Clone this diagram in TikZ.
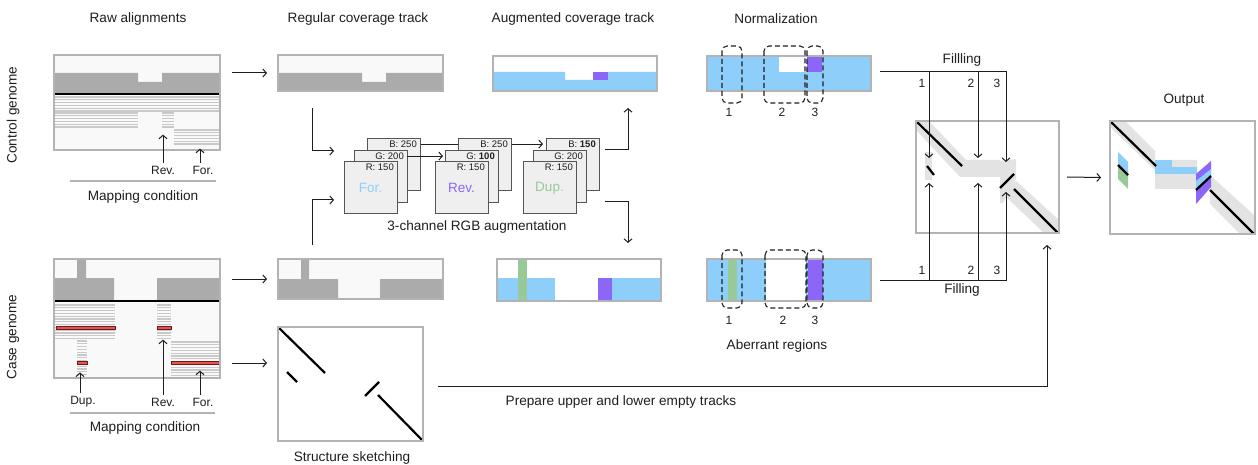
\documentclass[tikz,border=0pt]{standalone}
\usepackage{fontspec}
\setmainfont{Liberation Sans}
\usetikzlibrary{arrows.meta,calc}
\pgfdeclarelayer{back}
\pgfsetlayers{back,main}

\definecolor{frame}{HTML}{B3B3B3}
\definecolor{panel}{HTML}{F9F9F9}
\definecolor{cov}{HTML}{ABABAB}
\definecolor{readc}{HTML}{C9C9C9}
\definecolor{skyb}{HTML}{8DCEFB}
\definecolor{viol}{HTML}{8C66F7}
\definecolor{leaf}{HTML}{98C998}
\definecolor{band}{HTML}{E3E3E3}
\definecolor{cardf}{HTML}{EFEFEF}
\definecolor{cardline}{HTML}{555555}
\definecolor{ink}{HTML}{1E1E1E}
\definecolor{redr}{HTML}{E8554E}
\definecolor{redline}{HTML}{6A1C1C}

\tikzset{
  txt/.style={font=\fontsize{13.6}{16}\selectfont, inner sep=0pt, text=ink},
  small/.style={font=\fontsize{12}{14}\selectfont, inner sep=0pt, text=ink},
  clabel/.style={font=\fontsize{9.5}{11}\selectfont, inner sep=0pt, text=ink},
  cardtxt/.style={font=\fontsize{13.5}{16}\selectfont, inner sep=0pt},
  panelbox/.style={draw=frame, line width=1.3pt, inner sep=0pt, outer sep=0pt, anchor=north west},
  card/.style={draw=cardline, fill=cardf, line width=0.9pt, minimum width=53pt,
               minimum height=52pt, inner sep=0pt, outer sep=0pt, anchor=north west},
  arr/.style={-{Straight Barb[length=3.5pt,width=8pt]}, line width=1pt, draw=ink},
  plain/.style={line width=1pt, draw=ink},
  diag/.style={line width=2.2pt, draw=black},
  dashbox/.style={draw=ink, line width=1.1pt, dash pattern=on 5pt off 3pt, rounded corners=5pt},
  underline/.style={draw=frame, line width=2pt},
  readln/.style={draw=readc, line width=1.3pt},
}

% a framed panel given by its corners
\newcommand{\panel}[6]{\node[panelbox, fill=#6, minimum width={#4-#2}, minimum height={#5-#3}] (#1) at (#2,#3) {};}
\newcommand{\frameit}[1]{\draw[draw=frame, line width=1.3pt] (#1.north west) rectangle (#1.south east);}
% a block of stacked reads
\newcommand{\readblock}[4]{%
  \pgfmathtruncatemacro\nrows{(#4-#3-1)/2.8}%
  \foreach \k in {0,...,\nrows}{\draw[readln] (#1,#3+1+2.8*\k) -- (#2,#3+1+2.8*\k);}%
}
% a highlighted read
\newcommand{\redread}[3]{\draw[fill=redr, draw=redline, line width=0.6pt] (#1,#3-1.7) rectangle (#2,#3+1.7);}
% three stacked RGB channel cards
\newcommand{\cardstack}[7]{%
  \node[card] (#1B) at (#2+23,138) {};
  \node[clabel, anchor=north east] (#1Bl) at ($(#1B.north east)+(-3,2.5)$) {#5};
  \node[card] (#1G) at (#2+10,150) {};
  \node[clabel, anchor=north east] (#1Gl) at ($(#1G.north east)+(-3,2.5)$) {#4};
  \node[card] (#1R) at (#2,161) {};
  \node[clabel, anchor=north east] (#1Rl) at ($(#1R.north east)+(-3,2.5)$) {#3};
  \node[cardtxt, text=#7] (#1T) at ($(#1R.center)+(0,1)$) {#6};
}

\begin{document}
\begin{tikzpicture}[x=1pt,y=-1pt]
\useasboundingbox (0,0) rectangle (1258,465);

% ---------- column titles ----------
\node[txt] (tRaw)  at (138,19) {Raw alignments};
\node[txt] (tReg)  at (358,19) {Regular coverage track};
\node[txt] (tAug)  at (573,19) {Augmented coverage track};
\node[txt] (tNorm) at (776,19) {Normalization};
\node[txt] (tOut)  at (1184,100) {Output};
\node[txt, rotate=90] (gCtrl) at (13,115) {Control genome};
\node[txt, rotate=90] (gCase) at (13,337) {Case genome};

% ---------- raw alignments: control ----------
\panel{rawC}{54}{55}{220}{150}{panel}
\fill[cov] (54,73) -- (138,73) -- (138,82) -- (162,82) -- (162,73) -- (220,73) -- (220,94) -- (54,94) -- cycle;
\readblock{54}{220}{96}{112}
\readblock{54}{138}{112}{128}
\readblock{162}{174}{112}{128}
\readblock{174}{220}{129}{145}
\draw[line width=2.4pt, black] (54,94) -- (220,94);
\frameit{rawC}
\node[small] (lRevC) at (163,170) {Rev.};
\node[small] (lForC) at (203,170) {For.};
\draw[arr] ([yshift=3pt]lRevC.north) -- ++(0,-28);
\draw[arr] ([xshift=-3pt,yshift=3pt]lForC.north) -- ++(0,-14);
\draw[underline] (70,181) -- (216,181);
\node[txt] (mcC) at (143,197) {Mapping condition};

% ---------- raw alignments: case ----------
\panel{rawK}{54}{259}{220}{378}{panel}
\fill[cov] (54,278) -- (77,278) -- (77,259) -- (86,259) -- (86,278) -- (114,278) -- (114,301) -- (54,301) -- cycle;
\fill[cov] (157,278) rectangle (220,301);
\readblock{54}{115}{304}{339}
\readblock{157}{171}{304}{340}
\readblock{77}{87}{340}{377}
\readblock{171}{220}{341}{377}
\redread{56}{115}{328}
\redread{157}{171}{328}
\redread{77}{87}{363}
\redread{171}{220}{363}
\draw[line width=2.4pt, black] (54,301) -- (220,301);
\frameit{rawK}
\node[small] (lDup) at (83,402) {Dup.};
\node[small] (lRevK) at (163,402) {Rev.};
\node[small] (lForK) at (203,402) {For.};
\draw[arr] ([xshift=-3pt,yshift=3pt]lDup.north) -- ++(0,-21);
\draw[arr] ([yshift=3pt]lRevK.north) -- ++(0,-55);
\draw[arr] ([xshift=-3pt,yshift=3pt]lForK.north) -- ++(0,-24);
\draw[underline] (70,413) -- (215,413);
\node[txt] (mcK) at (145,428) {Mapping condition};

% ---------- regular coverage tracks ----------
\panel{regC}{278}{55}{443}{91}{panel}
\fill[cov] (278,73) -- (362,73) -- (362,82) -- (386,82) -- (386,73) -- (443,73) -- (443,91) -- (278,91) -- cycle;
\frameit{regC}
\panel{regK}{278}{259}{443}{299}{panel}
\fill[cov] (278,279) -- (301,279) -- (301,259) -- (309,259) -- (309,279) -- (338,279) -- (338,299) -- (278,299) -- cycle;
\fill[cov] (380,279) rectangle (443,299);
\frameit{regK}

% ---------- structure sketch ----------
\panel{sk}{278}{327}{423}{441}{white}
\draw[diag] (278,327) -- (325,373);
\draw[diag] (287,372) -- (297,382);
\draw[diag] (365,396) -- (379,382);
\draw[diag] (378,395) -- (423,441);
\frameit{sk}
\node[txt] (tSk) at (352,458) {Structure sketching};

\draw[arr] ($(rawC.east|-regC.west)+(12,0)$) -- ($(regC.west)+(-11,0)$);
\draw[arr] ($(rawK.east|-regK.west)+(12,0)$) -- ($(regK.west)+(-11,0)$);
\draw[arr] ($(rawK.east)+(12,44.5)$) -- ($(sk.north west)+(-11,36)$);

% ---------- RGB augmentation ----------
\cardstack{f}{344}{R: 150}{G: 200}{B: 250}{For.}{skyb}
\cardstack{r}{435}{R: 150}{G: \textbf{100}}{B: 250}{Rev.}{viol}
\cardstack{d}{523}{R: 150}{G: 200}{B: \textbf{150}}{Dup.}{leaf}
\begin{pgfonlayer}{back}
  \draw[arr] (fB.east |- fBl.west) -- ($(dB.west |- fBl.west)+(-3,0)$);
\end{pgfonlayer}
\draw[arr] (fG.east |- fGl.west) -- ($(rG.west |- fGl.west)+(-2,0)$);
\node[txt] (tRGB) at (477,227) {3-channel RGB augmentation};

\draw[arr] ($(regC.south west)+(34,17)$) |- ($(fR.north west)+(-10,-10)$);
\draw[arr] ($(regK.north west)+(34,-14)$) |- ($(fR.south west)+(-10,-13)$);

% ---------- augmented coverage tracks ----------
\panel{augC}{493}{56}{657}{91}{white}
\fill[skyb] (493,72) -- (565,72) -- (565,80) -- (608,80) -- (608,72) -- (657,72) -- (657,91) -- (493,91) -- cycle;
\fill[viol] (593,72) rectangle (608,80);
\frameit{augC}
\panel{augK}{497}{259}{661}{301}{white}
\fill[skyb] (497,278) rectangle (555,301);
\fill[skyb] (598,278) rectangle (661,301);
\fill[viol] (598,278) rectangle (612,301);
\fill[leaf] (518,259) rectangle (527,301);
\frameit{augK}

\draw[arr] ($(dB.north east)+(6,12)$) -| ($(augC.south west)+(135,17)$);
\draw[arr] ($(dB.south east)+(6,12)$) -| ($(augK.north west)+(131,-16)$);

% ---------- normalization ----------
\panel{normC}{707}{56}{871}{91}{skyb}
\fill[white] (779,56) rectangle (807,72);
\fill[viol] (807,56) rectangle (822,72);
\frameit{normC}
\draw[dashbox] (722,46) rectangle (742,103);
\draw[dashbox] (764,46) rectangle (805,103);
\draw[dashbox] (807,46) rectangle (823,103);
\node[small] (nC1) at (729,112) {1};
\node[small] (nC2) at (782,112) {2};
\node[small] (nC3) at (815,112) {3};

\panel{normK}{707}{259}{871}{301}{skyb}
\fill[leaf] (728,259) rectangle (737,301);
\fill[white] (766,259) rectangle (806,301);
\fill[viol] (808,259) rectangle (823,301);
\frameit{normK}
\draw[dashbox] (722,250) rectangle (742,308);
\draw[dashbox] (765,250) rectangle (806,308);
\draw[dashbox] (807,250) rectangle (823,308);
\node[small] (nK1) at (729,320) {1};
\node[small] (nK2) at (783,320) {2};
\node[small] (nK3) at (815,320) {3};
\node[txt] (tAb) at (777,346) {Aberrant regions};

% ---------- filling matrix ----------
\panel{mat}{916}{121}{1059}{233}{white}
\begin{scope}[shift={(916,121)}]
  \fill[band] (0,0) -- (13,0) -- (50,39) -- (84,39) -- (84,56) -- (44,56) -- (0,9) -- cycle;
  \fill[band] (9,31) rectangle (16,59);
  \fill[band] (84,40) -- (100,38) -- (100,58) -- (87,82) -- (84,82) -- cycle;
  \fill[band] (100,60) -- (143,99) -- (143,112) -- (128,112) -- (88,74) -- cycle;
  \draw[diag] (1,1) -- (46,45);
  \draw[diag] (11,45) -- (18,54);
  \draw[diag] (84,67) -- (98,53);
  \draw[diag] (98,68) -- (142,112);
\end{scope}
\frameit{mat}

\node[txt] (tFillTop) at (962,60) {Fillling};
\node[txt] (tFillBot) at (962,290) {Filling};
\draw[arr] ($(normC.east)+(9,-1.5)$) -| ($(mat.north west)+(90,41)$);
\draw[arr] ($(normC.east)+(58,-1.5)$) -- ($(mat.north west)+(13,37)$);
\draw[arr] ($(normC.east)+(107,-1.5)$) -- ($(mat.north west)+(62,37)$);
\draw[arr] ($(normK.east)+(9,0)$) -| ($(mat.north west)+(90,71)$);
\draw[arr] ($(normK.east)+(58,0)$) -- ($(mat.north west)+(13,62)$);
\draw[arr] ($(normK.east)+(107,0)$) -- ($(mat.north west)+(62,62)$);
\node[small] (fT1) at (922,83) {1};
\node[small] (fT2) at (971,83) {2};
\node[small] (fT3) at (997,83) {3};
\node[small] (fB1) at (922,270) {1};
\node[small] (fB2) at (971,270) {2};
\node[small] (fB3) at (997,270) {3};

\draw[arr] ($(sk.east)+(15,2)$) -| ($(mat.south east)+(-12,12)$);
\node[txt] (tPrep) at (621,402) {Prepare upper and lower empty tracks};

% ---------- output ----------
\panel{out}{1110}{121}{1255}{234}{white}
\begin{scope}[shift={(1110,121)}]
  \fill[band] (0,0) -- (15,0) -- (45,30) -- (45,39) -- (87,39) -- (87,68) -- (45,68) -- (45,49) -- (0,6) -- cycle;
  \fill[skyb] (45,39) rectangle (62,46);
  \fill[skyb] (45,46) rectangle (87,53);
  \fill[band] (101,55) -- (145,95) -- (145,113) -- (130,113) -- (100,83) -- cycle;
  \fill[skyb] (8,31) -- (18,41) -- (18,54) -- (8,44) -- cycle;
  \fill[leaf] (8,44) -- (18,54) -- (18,68) -- (8,58) -- cycle;
  \fill[viol] (86,53) -- (101,40) -- (101,66) -- (86,83) -- cycle;
  \fill[skyb] (86,60) -- (101,48) -- (101,55) -- (86,69) -- cycle;
  \draw[diag] (1,1) -- (46,45);
  \draw[diag] (8,44) -- (18,54);
  \draw[diag] (86,69) -- (101,55);
  \draw[diag] (100,69) -- (144,113);
\end{scope}
\frameit{out}
\draw[arr] ($(mat.east)+(8,0)$) -- ($(out.west)+(-9,0)$);

\end{tikzpicture}
\end{document}
